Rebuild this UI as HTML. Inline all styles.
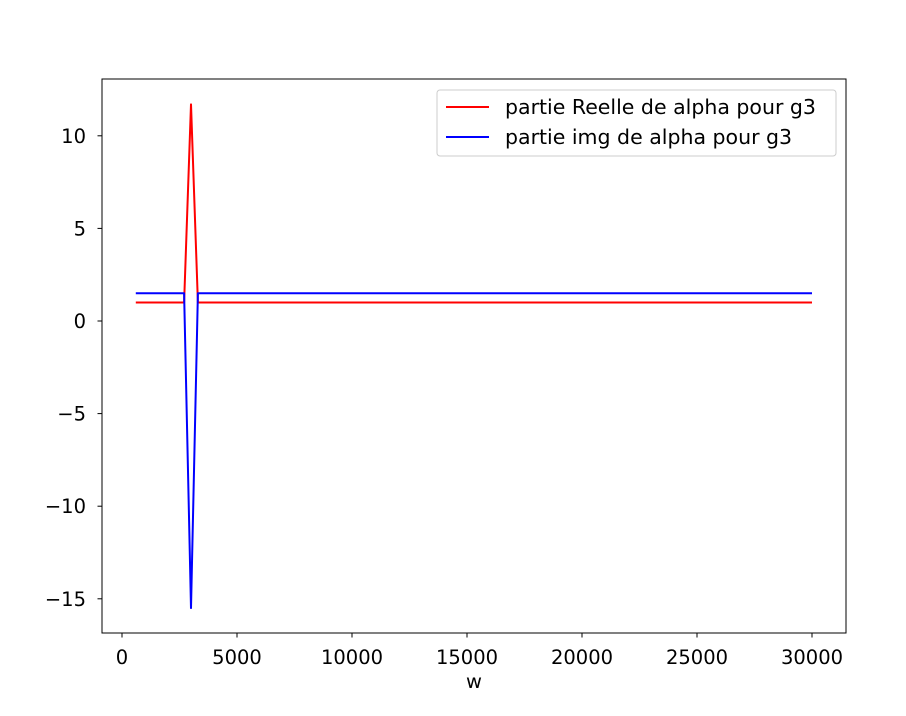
<!DOCTYPE html>
<html><head><meta charset="utf-8"><style>
body{margin:0;background:#fff}
svg text{font-family:"DejaVu Sans","Liberation Sans",sans-serif;font-size:19.5px;fill:#000}
svg .lg{font-size:20.5px}
</style></head><body>
<svg id="chart" width="906" height="711" xmlns="http://www.w3.org/2000/svg">
<rect x="102" y="79" width="744" height="554" fill="#fff" stroke="#000" stroke-width="1"/>
<g id="xt"></g>
<g id="yt"></g>
<g id="series"></g>
<text x="474" y="688" text-anchor="middle">w</text>
<g>
<rect x="437" y="90" width="399" height="66" rx="3" fill="#fff" fill-opacity="0.8" stroke="#ccc"/>
<line x1="446" y1="107" x2="489" y2="107" stroke="red" stroke-width="2"/>
<text class="lg" x="505" y="114">partie Reelle de alpha pour g3</text>
<line x1="446" y1="137" x2="489" y2="137" stroke="blue" stroke-width="2"/>
<text class="lg" x="505" y="144">partie img de alpha pour g3</text>
</g>
</svg>
<script>
const wValues=[600,2700,3000,3300,30000];
const realValues=[1,1,11.7,1,1];
const imgValues=[1.5,1.5,-15.5,1.5,1.5];
const xTicks=[0,5000,10000,15000,20000,25000,30000];
const yTicks=[10,5,0,-5,-10,-15];
const X=v=>122+v*0.023;
const Y=v=>321-v*18.52;
const NS="http://www.w3.org/2000/svg";
function mk(t,a,p){const e=document.createElementNS(NS,t);for(const k in a)e.setAttribute(k,a[k]);p.appendChild(e);return e;}
const xt=document.getElementById('xt'),yt=document.getElementById('yt'),sg=document.getElementById('series');
xTicks.forEach(v=>{
 const l=mk('line',{x1:X(v),x2:X(v),y1:633,y2:637.5,stroke:'#000'},xt);
 
 
 const t=mk('text',{x:X(v),y:664,'text-anchor':'middle'},xt);t.textContent=v;
 
 
});
yTicks.forEach(v=>{
 const l=mk('line',{x1:97.5,x2:102,y1:Y(v),y2:Y(v),stroke:'#000'},yt);
 
 
 const t=mk('text',{x:86,y:Y(v)+7,'text-anchor':'end'},yt);t.textContent=(v<0?'\u2212'+(-v):v);
 
 
});
function line(vals,color,name){
 const p=mk('polyline',{points:wValues.map((w,i)=>X(w)+','+Y(vals[i])).join(' '),fill:'none',stroke:color,'stroke-width':2,'stroke-linejoin':'round'},sg);
 
 
}
line(realValues,'red','real-part-line');
line(imgValues,'blue','imag-part-line');
</script>
</body></html>
